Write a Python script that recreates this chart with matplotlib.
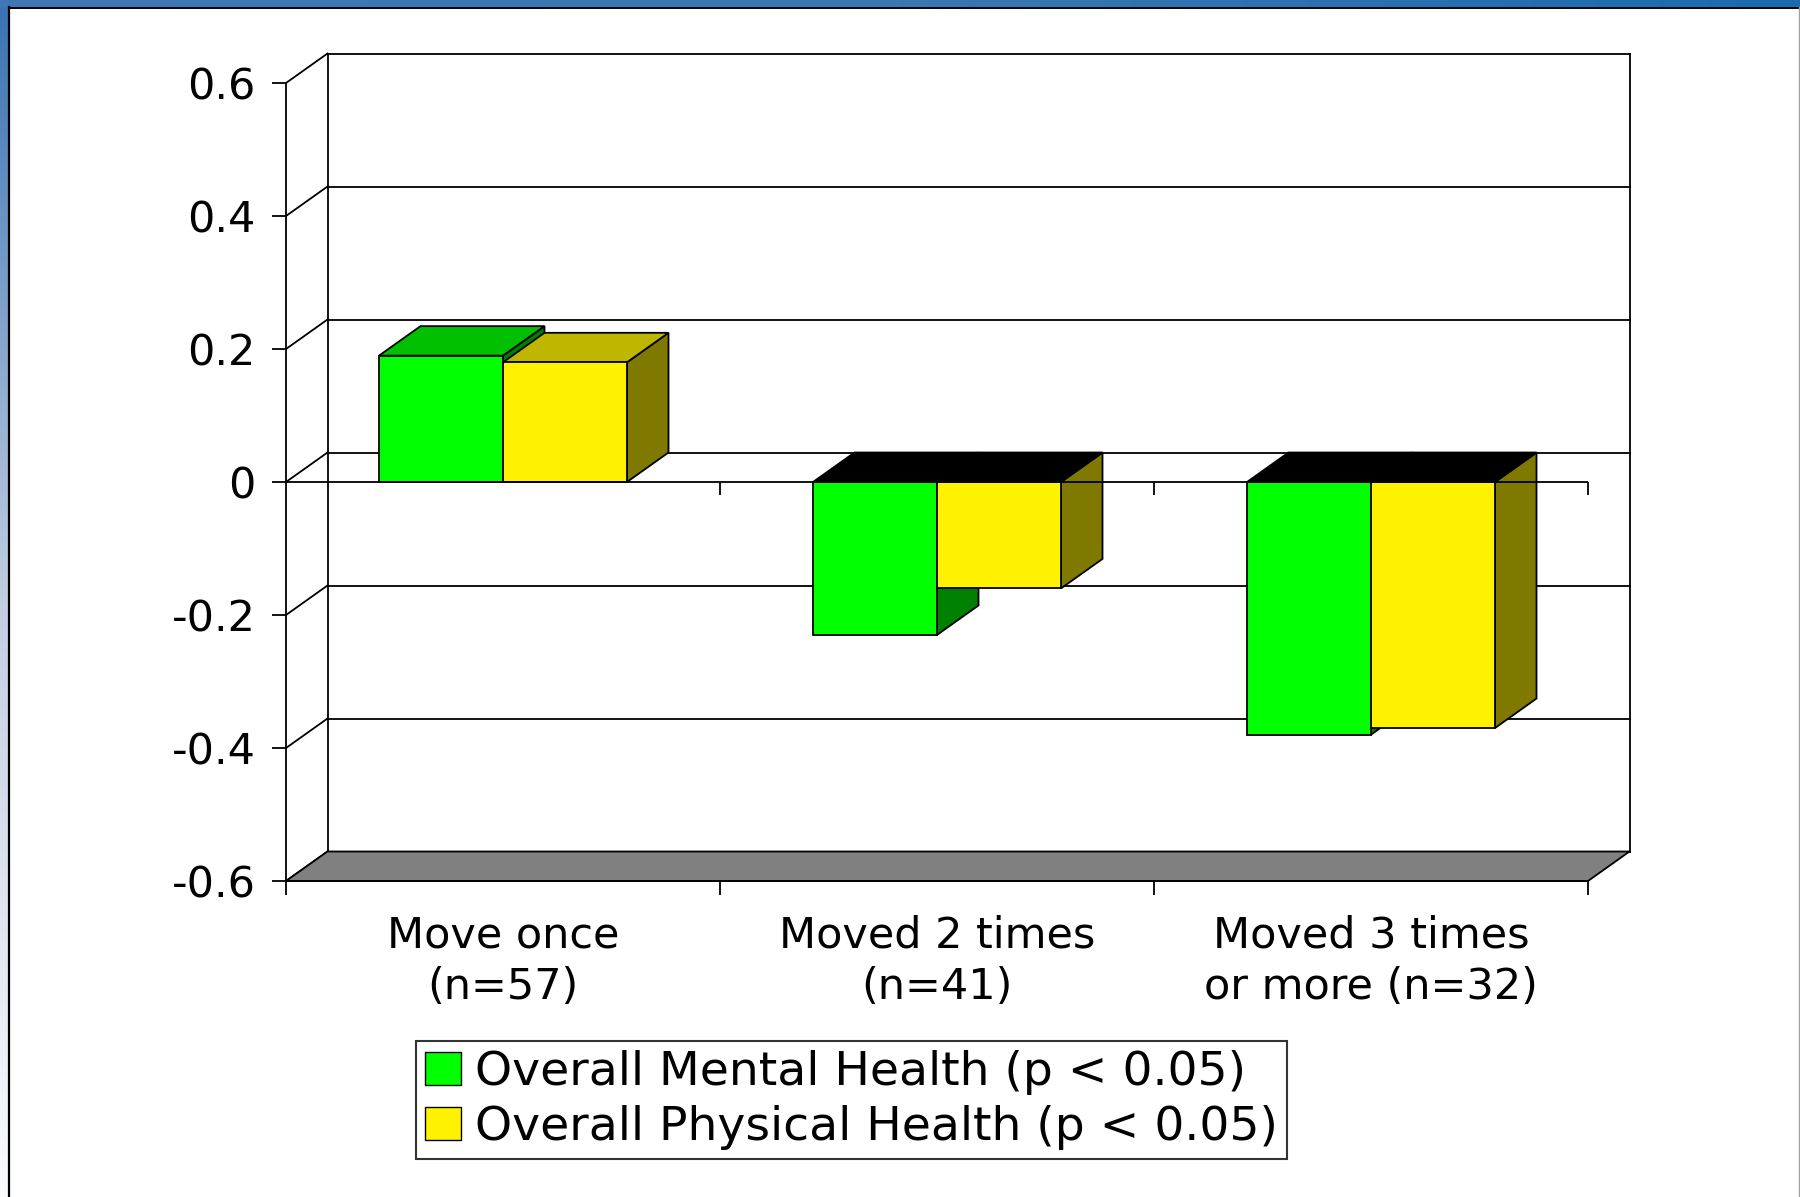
import numpy as np
import matplotlib.pyplot as plt
from matplotlib.patches import Polygon, Patch
from matplotlib.lines import Line2D
from matplotlib.colors import LinearSegmentedColormap

# data
categories = ['Move once\n(n=57)', 'Moved 2 times\n(n=41)', 'Moved 3 times\nor more (n=32)']
mental = [0.19, -0.23, -0.38]
physical = [0.18, -0.16, -0.37]
series_names = ['Overall Mental Health (p < 0.05)', 'Overall Physical Health (p < 0.05)']
yticks = [-0.6, -0.4, -0.2, 0, 0.2, 0.4, 0.6]
ytick_labels = ['-0.6', '-0.4', '-0.2', '0', '0.2', '0.4', '0.6']

plt.rcParams['font.family'] = ['DejaVu Sans']

W, H = 1800, 1197
fig = plt.figure(figsize=(W / 100, H / 100), dpi=100)
fig.patch.set_facecolor('white')

# blue slide frame (top and left)
top = fig.add_axes([0, 1 - 7 / H, 1, 7 / H])
top.imshow(np.linspace(0, 1, 256)[None, :], aspect='auto',
           cmap=LinearSegmentedColormap.from_list('t', ['#3F78B5', '#3A77B3', '#1B6AAE']))
top.axis('off')
left = fig.add_axes([0, 0, 8 / W, 1 - 7 / H])
left.imshow(np.linspace(0, 1, 256)[:, None], aspect='auto',
            cmap=LinearSegmentedColormap.from_list('l', ['#3A74B2', '#C2CEE2', '#FAFBFD']))
left.axis('off')
fig.add_artist(Line2D([9 / W, 9 / W], [0, 1 - 7 / H], color='black', lw=1.6))
fig.add_artist(Line2D([9 / W, 1], [1 - 7.5 / H, 1 - 7.5 / H], color='black', lw=1.4))
fig.add_artist(Line2D([1 - 1 / W, 1 - 1 / W], [0, 1 - 7 / H], color='#A0A0A0', lw=1))

# main axes = front plane of the 3d box
x0px, x1px, ytop, ybot = 286, 1588, 83, 881
ax = fig.add_axes([x0px / W, 1 - ybot / H, (x1px - x0px) / W, (ybot - ytop) / H])
ax.set_xlim(0, 3)
ax.set_ylim(-0.6, 0.6)
ax.set_facecolor('none')

# depth offset (pixels -> data units)
depth_x, depth_y = 41.5, 29.5
DX = depth_x / (x1px - x0px) * 3
DY = depth_y / (ybot - ytop) * 1.2

lw = 1.3
# back wall gridlines + left wall diagonals
for t in yticks:
    ax.plot([DX, 3 + DX], [t + DY, t + DY], color='black', lw=lw, clip_on=False, zorder=1)
    ax.plot([0, DX], [t, t + DY], color='black', lw=lw, clip_on=False, zorder=1)
ax.plot([DX, DX], [-0.6 + DY, 0.6 + DY], color='black', lw=lw, clip_on=False, zorder=1)
ax.plot([3 + DX, 3 + DX], [-0.6 + DY, 0.6 + DY], color='black', lw=lw, clip_on=False, zorder=1)

# floor
ax.add_patch(Polygon([(0, -0.6), (3, -0.6), (3 + DX, -0.6 + DY), (DX, -0.6 + DY)],
                     closed=True, facecolor='#808080', edgecolor='black', lw=lw,
                     clip_on=False, zorder=2))

# bars
bar_w = 248 / 434 / 2
colors = [('#00FF00', '#00C000', '#008000'), ('#FFF200', '#BFB600', '#807900')]


def draw_bar(xl, v, front, topc, side):
    xr = xl + bar_w
    if v >= 0:
        top_pts = [(xl, v), (xr, v), (xr + DX, v + DY), (xl + DX, v + DY)]
        tc = topc
    else:
        top_pts = [(xl, 0), (xr, 0), (xr + DX, DY), (xl + DX, DY)]
        tc = 'black'
    side_pts = [(xr, 0), (xr, v), (xr + DX, v + DY), (xr + DX, DY)]
    kw = dict(closed=True, edgecolor='black', lw=lw, clip_on=False, zorder=3)
    ax.add_patch(Polygon(side_pts, facecolor=side, **kw))
    ax.add_patch(Polygon(top_pts, facecolor=tc, **kw))
    ax.add_patch(Polygon([(xl, 0), (xr, 0), (xr, v), (xl, v)], facecolor=front, **kw))


for i in range(len(categories)):
    start = i + 0.5 - bar_w
    for j, vals in enumerate([mental, physical]):
        draw_bar(start + j * bar_w, vals[i], *colors[j])

# front zero axis with ticks
ax.plot([0, 3], [0, 0], color='black', lw=lw, zorder=4)
ax.plot([1, 2, 3], [0, 0, 0], linestyle='none', marker=3, markersize=9,
        mew=lw, color='black', zorder=4)

# spines and ticks
for s in ['top', 'right']:
    ax.spines[s].set_visible(False)
ax.spines['left'].set_linewidth(lw)
ax.spines['bottom'].set_linewidth(lw)
ax.spines['left'].set_zorder(5)
ax.spines['bottom'].set_zorder(5)
ax.set_yticks(yticks)
ax.set_yticklabels(ytick_labels, fontsize=31)
ax.tick_params(axis='y', direction='out', length=10, width=lw, pad=12)
ax.set_xticks([0.5, 1.5, 2.5])
ax.set_xticklabels(categories, fontsize=31, linespacing=1.3)
ax.set_xticks([0, 1, 2, 3], minor=True)
ax.tick_params(axis='x', which='major', length=0, pad=24)
ax.tick_params(axis='x', which='minor', direction='out', length=10, width=lw)

# legend
handles = [Patch(facecolor=colors[0][0], edgecolor='black', lw=1),
           Patch(facecolor=colors[1][0], edgecolor='black', lw=1)]
leg = fig.legend(handles, series_names, loc='upper left',
                 bbox_to_anchor=(416 / W, 1 - 1041 / H), fontsize=34,
                 frameon=True, fancybox=False, edgecolor='black',
                 handlelength=0.75, handleheight=0.7, handletextpad=0.3,
                 borderpad=0.2, labelspacing=0.2, borderaxespad=0)
leg.get_frame().set_linewidth(1.5)

fig.savefig('out.png', dpi=100)
